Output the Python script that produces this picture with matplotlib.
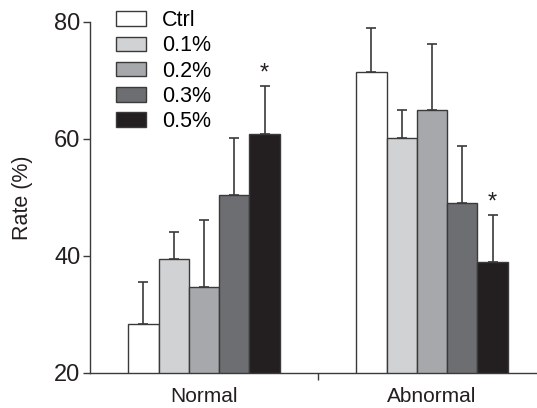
import numpy as np
import matplotlib.pyplot as plt

groups = ["Normal", "Abnormal"]
doses = ["Ctrl", "0.1%", "0.2%", "0.3%", "0.5%"]
# rate (%) per dose, one list per group
normal_rate = [28.4, 39.5, 34.6, 50.4, 60.9]
normal_err = [7.1, 4.6, 11.5, 9.7, 8.1]
abnormal_rate = [71.5, 60.2, 65.0, 49.1, 38.9]
abnormal_err = [7.4, 4.7, 11.3, 9.7, 8.0]
signif = [[False, False, False, False, True], [False, False, False, False, True]]

COLORS = ["#ffffff", "#d1d2d4", "#a7a8ab", "#6d6e71", "#231f20"]
EDGE = "#3a3a3a"

plt.rcParams["font.family"] = ["Liberation Sans", "DejaVu Sans"]

fig = plt.figure(figsize=(5.37, 4.08), dpi=100)
ax = fig.add_axes([90 / 537, 1 - 372.7 / 408, 456 / 537, (372.7 - 22) / 408])

x = np.arange(len(groups))
width = 0.133
rates = np.array([normal_rate, abnormal_rate])
errs = np.array([normal_err, abnormal_err])

for i, dose in enumerate(doses):
    pos = x + (i - 2) * width
    ax.bar(pos, rates[:, i], width, bottom=0, color=COLORS[i], edgecolor=EDGE,
           linewidth=1.0, label=dose, zorder=2)
    ax.errorbar(pos, rates[:, i], yerr=[np.zeros(len(groups)), errs[:, i]],
                fmt="none", ecolor=EDGE, elinewidth=1.2, capsize=3.8, capthick=1.2, zorder=1)
    for g in range(len(groups)):
        if signif[g][i]:
            ax.text(pos[g], rates[g, i] + errs[g, i] + 0.3, "*", ha="center", va="bottom",
                    fontsize=17, color="#231f20")

ax.set_ylim(20, 80)
ax.set_xlim(-0.5, 1.5)
ax.set_yticks([20, 40, 60, 80])
ax.tick_params(axis="y", labelsize=17, length=5, width=1, color=EDGE, pad=2, labelcolor="#231f20")
ax.set_xticks([0.5])
ax.set_xticklabels([""])
ax.tick_params(axis="x", length=5, width=1, color=EDGE)
# group names sit below the axis, baseline close to the bottom edge
for g, name in zip(x, groups):
    ax.text(g, 15.0, name, ha="center", va="baseline", fontsize=15, color="#231f20")

for s in ["top", "right"]:
    ax.spines[s].set_visible(False)
for s in ["left", "bottom"]:
    ax.spines[s].set_color(EDGE)
    ax.spines[s].set_linewidth(1.0)

ax.set_ylabel("Rate (%)", fontsize=15.5, labelpad=15, color="#231f20")

ax.legend(loc="upper left", bbox_to_anchor=(116 / 537, 1 - 10 / 408), bbox_transform=fig.transFigure,
          frameon=False, fontsize=15.5, handlelength=1.4, handleheight=0.65,
          labelspacing=0.2, handletextpad=0.75, borderaxespad=0, borderpad=0)

fig.savefig("out.png", dpi=100)
